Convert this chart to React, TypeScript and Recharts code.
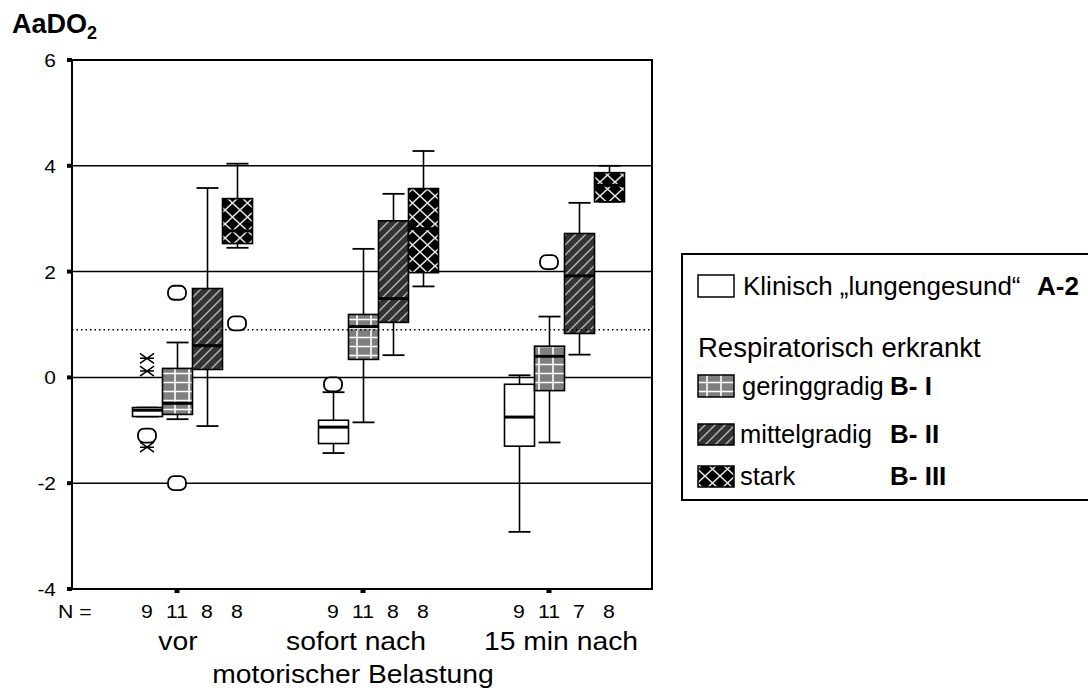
import { ComposedChart, Bar, Scatter, XAxis, YAxis, CartesianGrid, ReferenceLine, ReferenceArea } from 'recharts'

const groups = ['vor', 'sofort nach', '15 min nach']
const seriesNames = ['A-2', 'B-I', 'B-II', 'B-III']

// per group (vor, sofort, 15 min) and series (A-2, B-I, B-II, B-III)
const counts = [
  [9, 11, 8, 8],
  [9, 11, 8, 8],
  [9, 11, 7, 8],
]
const whiskerLow = [
  [-0.74, -0.79, -0.92, 2.45],
  [-1.43, -0.85, 0.42, 1.72],
  [-2.92, -1.23, 0.43, 3.32],
]
const quart1 = [
  [-0.74, -0.7, 0.15, 2.53],
  [-1.25, 0.34, 1.04, 1.98],
  [-1.3, -0.25, 0.83, 3.32],
]
const medians = [
  [-0.62, -0.49, 0.6, 2.77],
  [-0.94, 0.96, 1.49, 2.81],
  [-0.75, 0.4, 1.92, 3.63],
]
const quart3 = [
  [-0.57, 0.17, 1.68, 3.38],
  [-0.81, 1.19, 2.96, 3.57],
  [-0.13, 0.59, 2.72, 3.87],
]
const whiskerHigh = [
  [-0.57, 0.66, 3.58, 4.04],
  [-0.28, 2.43, 3.47, 4.28],
  [0.04, 1.15, 3.3, 4.0],
]

// outliers: [group, series, value]
const circleOutliers = [
  [0, 0, -1.1],
  [0, 1, 1.6],
  [0, 1, -2.0],
  [0, 3, 1.02],
  [1, 0, -0.13],
  [2, 1, 2.18],
]
const extremeOutliers = [
  [0, 0, 0.36],
  [0, 0, 0.12],
  [0, 0, -1.32],
]

const yTicks = [-4, -2, 0, 2, 4, 6]
const refValue = 0.9

// x layout in "box slots"
const X_MAX = 19.3333
const slot = (g: number, s: number) => 2.5 + g * 6.2 + s

const boxRows = groups.flatMap((_, g) =>
  seriesNames.map((_, s) => ({
    x: slot(g, s),
    g,
    s,
    n: counts[g][s],
    min: whiskerLow[g][s],
    q1: quart1[g][s],
    median: medians[g][s],
    q3: quart3[g][s],
    max: whiskerHigh[g][s],
    range: [whiskerLow[g][s], whiskerHigh[g][s]],
  }))
)
const circles = circleOutliers.map(([g, s, v]) => ({ x: slot(g, s), y: v }))
const stars = extremeOutliers.map(([g, s, v]) => ({ x: slot(g, s), y: v }))

const FONT = 'Arial, "Liberation Sans", sans-serif'

function Patterns({ id }: { id: string }) {
  return (
    <defs>
      <pattern id={`${id}-b1`} width={14} height={9} patternUnits="userSpaceOnUse">
        <rect width={14} height={9} fill="#7f7f7f" />
        <path d="M7,0V9M0,4.5H14" stroke="#fff" strokeWidth={1.6} />
      </pattern>
      <pattern id={`${id}-b2`} width={10} height={10} patternUnits="userSpaceOnUse">
        <rect width={10} height={10} fill="#333" />
        <path d="M0,10L10,0M-2,2L2,-2M8,12L12,8" stroke="#b0b0b0" strokeWidth={1.5} />
      </pattern>
      <pattern id={`${id}-b3`} width={15} height={14} patternUnits="userSpaceOnUse">
        <rect width={15} height={14} fill="#000" />
        <path d="M0,0L15,14M15,0L0,14" stroke="#e6e6e6" strokeWidth={1.5} />
      </pattern>
    </defs>
  )
}

const fillFor = (id: string, s: number) => (s === 0 ? '#fff' : `url(#${id}-b${s})`)

function BoxShape(props: any) {
  const { x, y, width, height, payload } = props
  if (!payload || x == null || y == null) return null
  const cx = x + width / 2
  const top = Math.min(y, y + height)
  const h = Math.abs(height)
  const span = payload.max - payload.min || 1
  const py = (v: number) => top + (h * (payload.max - v)) / span
  const half = 15
  const cap = 11
  return (
    <g>
      <line x1={cx} x2={cx} y1={py(payload.max)} y2={py(payload.min)} stroke="#000" strokeWidth={1.6} />
      <line x1={cx - cap} x2={cx + cap} y1={py(payload.max)} y2={py(payload.max)} stroke="#000" strokeWidth={1.8} />
      <line x1={cx - cap} x2={cx + cap} y1={py(payload.min)} y2={py(payload.min)} stroke="#000" strokeWidth={1.8} />
      <rect
        x={cx - half}
        y={py(payload.q3)}
        width={half * 2}
        height={py(payload.q1) - py(payload.q3)}
        fill={fillFor('chart', payload.s)}
        stroke="#000"
        strokeWidth={1.6}
      />
      <line x1={cx - half} x2={cx + half} y1={py(payload.median)} y2={py(payload.median)} stroke="#000" strokeWidth={3} />
    </g>
  )
}

function CircleMark(props: any) {
  const { cx, cy } = props
  if (cx == null || cy == null) return null
  return <rect x={cx - 9} y={cy - 7} width={18} height={14} rx={6} fill="#fff" stroke="#000" strokeWidth={1.8} />
}

function StarMark(props: any) {
  const { cx, cy } = props
  if (cx == null || cy == null) return null
  return (
    <path
      d={`M${cx - 7},${cy - 5}L${cx + 7},${cy + 5}M${cx + 7},${cy - 5}L${cx - 7},${cy + 5}M${cx - 7},${cy}H${cx + 7}`}
      stroke="#000"
      strokeWidth={1.5}
      fill="none"
    />
  )
}

function NTick(props: any) {
  const { x, y, payload } = props
  const row = boxRows.find((r) => Math.abs(r.x - payload.value) < 1e-6)
  if (!row) return null
  return (
    <g>
      {row.s === 1 && <rect x={x - 2.5} y={y} width={5} height={4} fill="#000" />}
      {row.g === 0 && row.s === 0 && (
        <text x={0} y={0} fontSize={19} fontFamily={FONT} fill="#000" transform={`translate(58,${y + 29}) scale(1.12,1)`}>
          N =
        </text>
      )}
      <text
        x={0}
        y={0}
        textAnchor="middle"
        fontSize={19}
        fontFamily={FONT}
        fill="#000"
        transform={`translate(${x},${y + 29}) scale(1.12,1)`}
      >
        {row.n}
      </text>
    </g>
  )
}

function YTick(props: any) {
  const { x, y, payload } = props
  return (
    <text x={0} y={0} textAnchor="end" fontSize={19} fontFamily={FONT} fill="#000" transform={`translate(${x},${y + 7}) scale(1.1,1)`}>
      {payload.value}
    </text>
  )
}

const legendItems = [
  { s: 1, label: 'geringgradig', code: 'B- I', y: 375, h: 22, tx: 742 },
  { s: 2, label: 'mittelgradig', code: 'B- II', y: 424, h: 21, tx: 740 },
  { s: 3, label: 'stark', code: 'B- III', y: 466, h: 21, tx: 740 },
]

function Overlay() {
  return (
    <svg width={1088} height={691} style={{ position: 'absolute', left: 0, top: 0, pointerEvents: 'none' }} fontFamily={FONT}>
      <Patterns id="legend" />
      <text x={12} y={33} fontSize={27} fontWeight="bold" fill="#000">
        AaDO
        <tspan fontSize={18} dy={6}>
          2
        </tspan>
      </text>

      {/* category labels */}
      {[
        { t: groups[0], cx: 178, y: 650 },
        { t: groups[1], cx: 356, y: 650 },
        { t: groups[2], cx: 561, y: 650 },
        { t: 'motorischer Belastung', cx: 353, y: 683 },
      ].map((l) => (
        <text key={l.t} x={0} y={0} textAnchor="middle" fontSize={25.5} fill="#000" transform={`translate(${l.cx},${l.y}) scale(1.11,1)`}>
          {l.t}
        </text>
      ))}

      {/* legend */}
      <rect x={682} y={254} width={420} height={246} fill="#fff" stroke="#000" strokeWidth={2} />
      <rect x={698} y={275} width={36} height={22} fill="#fff" stroke="#000" strokeWidth={1.5} />
      <text x={743} y={295} fontSize={26} fill="#000">
        Klinisch „lungengesund“
      </text>
      <text x={1037} y={295} fontSize={26} fontWeight="bold" fill="#000">
        A-2
      </text>
      <text x={698} y={357} fontSize={27.5} fill="#000">
        Respiratorisch erkrankt
      </text>
      {legendItems.map((it) => (
        <g key={it.code}>
          <rect x={698} y={it.y} width={36} height={it.h} fill={fillFor('legend', it.s)} stroke="#000" strokeWidth={1.5} />
          <text x={it.tx} y={it.y + it.h - 2} fontSize={25.5} fill="#000">
            {it.label}
          </text>
          <text x={890} y={it.y + it.h - 2} fontSize={26} fontWeight="bold" fill="#000">
            {it.code}
          </text>
        </g>
      ))}
    </svg>
  )
}

export default function App() {
  return (
    <div style={{ position: 'absolute', left: 0, top: 0, width: 1088, height: 691, overflow: 'hidden', background: '#fff', fontFamily: FONT }}>
      <ComposedChart width={700} height={691} data={boxRows} margin={{ top: 60, right: 48, bottom: 62, left: 0 }}>
        <Patterns id="chart" />
        <CartesianGrid vertical={false} stroke="#000" strokeWidth={1.5} />
        <ReferenceLine y={refValue} stroke="#000" strokeDasharray="1.5 3" strokeWidth={1.4} />
        <XAxis
          dataKey="x"
          type="number"
          domain={[0, X_MAX]}
          ticks={boxRows.map((r) => r.x)}
          interval={0}
          tick={<NTick />}
          tickLine={false}
          axisLine={false}
          tickSize={0}
          tickMargin={0}
          height={40}
        />
        <YAxis
          type="number"
          domain={[-4, 6]}
          ticks={yTicks}
          width={72}
          tickSize={5}
          tickMargin={11}
          axisLine={false}
          tickLine={{ stroke: '#000', strokeWidth: 4 }}
          tick={<YTick />}
        />
        <Bar dataKey="range" shape={<BoxShape />} barSize={29} isAnimationActive={false} />
        <Scatter data={circles} dataKey="y" shape={<CircleMark />} isAnimationActive={false} />
        <Scatter data={stars} dataKey="y" shape={<StarMark />} isAnimationActive={false} />
        <ReferenceArea x1={0} x2={X_MAX} y1={-4} y2={6} fill="none" stroke="#000" strokeWidth={2} strokeOpacity={1} ifOverflow="visible" />
      </ComposedChart>
      <Overlay />
    </div>
  )
}
